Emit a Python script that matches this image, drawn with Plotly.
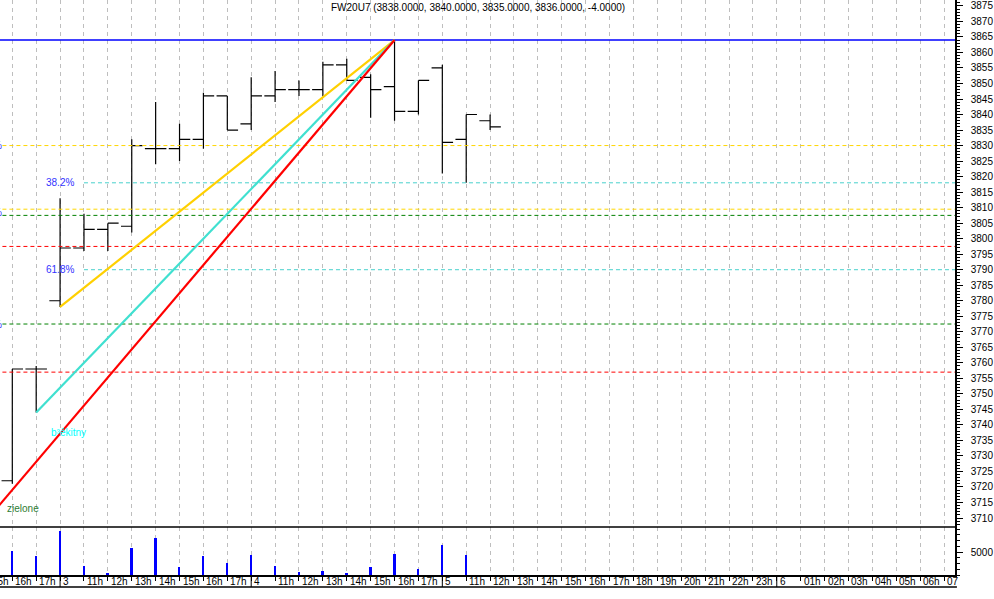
import plotly.graph_objects as go

# ---------------- data ----------------
bar_idx = list(range(1, 22))
opens  = [3722, 3758, 3780, 3797, 3803, 3804, 3829, 3829, 3832, 3846, 3837,
          3846, 3848, 3848, 3856, 3852, 3849, 3841, 3855, 3832, 3838]
highs  = [3758, 3759, 3813, 3808, 3805, 3832, 3844, 3837, 3847, 3846, 3852,
          3854, 3851, 3857, 3858, 3853, 3864, 3851, 3856, 3840, 3840]
lows   = [3721, 3744, 3778, 3796, 3796, 3802, 3824, 3825, 3829, 3835, 3835,
          3844, 3846, 3846, 3851, 3839, 3838, 3840, 3821, 3818, 3835]
closes = [3758, 3758, 3797, 3803, 3805, 3830, 3829, 3832, 3846, 3835, 3846,
          3848, 3848, 3856, 3851, 3848, 3841, 3851, 3831, 3840, 3836]
volumes = [5200, 4130, 9570, 1960, 500, 5870, 8040, 1740, 4130, 2610, 4350,
           1960, 650, 870, 430, 1740, 4570, 1300, 6520, 4350, 0]

tick_idx = list(range(0, 41))
tick_labels = ["15h", "16h", "17h", "3", "11h", "12h", "13h", "14h", "15h", "16h", "17h",
               "4", "11h", "12h", "13h", "14h", "15h", "16h", "17h",
               "5", "11h", "12h", "13h", "14h", "15h", "16h", "17h", "18h", "19h", "20h",
               "21h", "22h", "23h", "6", "01h", "02h", "03h", "04h", "05h", "06h", "07"]
day_idx = [3, 11, 19, 33]

# trend lines (start point -> top)
red_x, red_y = [0, 17], [3710, 3864]
cyan_x, cyan_y = [2, 17], [3744, 3864]
yellow_x, yellow_y = [3, 17], [3778, 3864]

# horizontal levels
top_level = 3864
dashed_levels = [3830, 3809.5, 3807.5, 3797.5, 3772.5, 3757]
dashed_colors = ["#FFD700", "#FFD700", "#008000", "#FF0000", "#008000", "#FF0000"]
fib_levels = [3818, 3790]
fib_labels = ["38.2%", "61.8%"]
fib_start = 4
left_pct_levels = [3830, 3808.5, 3772.5]

title_text = "FW20U7 (3838.0000, 3840.0000, 3835.0000, 3836.0000, -4.0000)"

FONT = "Liberation Sans, Arial, sans-serif"
X0, X1 = 0.485, 40.46

fig = go.Figure()

# volume spikes
fig.add_trace(go.Bar(x=bar_idx, y=volumes, width=0.08, marker=dict(color="#0000FF", line=dict(width=0)),
                     yaxis="y2", xaxis="x", showlegend=False, hoverinfo="skip"))

# horizontal dashed levels
for lv, col in zip(dashed_levels, dashed_colors):
    fig.add_trace(go.Scatter(x=[0, 41], y=[lv, lv], mode="lines",
                             line=dict(color=col, width=1, dash="4px,3px"),
                             showlegend=False, hoverinfo="skip"))
for lv in fib_levels:
    fig.add_trace(go.Scatter(x=[fib_start, 41], y=[lv, lv], mode="lines",
                             line=dict(color="#48D1CC", width=1, dash="4px,3px"),
                             showlegend=False, hoverinfo="skip"))
fig.add_trace(go.Scatter(x=[0, 41], y=[top_level, top_level], mode="lines",
                         line=dict(color="#0000FF", width=1.5), showlegend=False, hoverinfo="skip"))

# trend lines
fig.add_trace(go.Scatter(x=yellow_x, y=yellow_y, mode="lines", line=dict(color="#FFD000", width=2.2),
                         showlegend=False, hoverinfo="skip"))
fig.add_trace(go.Scatter(x=cyan_x, y=cyan_y, mode="lines", line=dict(color="#40E0D0", width=2.2),
                         showlegend=False, hoverinfo="skip"))
fig.add_trace(go.Scatter(x=red_x, y=red_y, mode="lines", line=dict(color="#FF0000", width=2.2),
                         showlegend=False, hoverinfo="skip"))

# OHLC bars
fig.add_trace(go.Ohlc(x=bar_idx, open=opens, high=highs, low=lows, close=closes,
                      increasing=dict(line=dict(color="black", width=1.2)),
                      decreasing=dict(line=dict(color="black", width=1.2)),
                      tickwidth=0.45, showlegend=False, hoverinfo="skip"))

PH = 575.0
vol_top = 48 / PH

fig.update_layout(
    width=994, height=599,
    margin=dict(l=0, r=39, t=0, b=24),
    paper_bgcolor="white", plot_bgcolor="white",
    font=dict(family=FONT, size=10, color="black"),
    showlegend=False,
    xaxis=dict(range=[X0, X1], anchor="y2", rangeslider=dict(visible=False),
               tickmode="array", tickvals=tick_idx, ticktext=[""] * len(tick_idx),
               ticks="outside", ticklen=4, tickcolor="black", tickwidth=1,
               showticklabels=False,
               showgrid=True, gridcolor="#BEBEBE", griddash="4px,4px", gridwidth=1,
               showline=True, linecolor="black", linewidth=1.5, zeroline=False),
    yaxis=dict(domain=[vol_top, 1], range=[3707.1, 3876.9], side="right",
               tickmode="linear", tick0=3710, dtick=5, ticks="outside", ticklen=6,
               tickcolor="black", showgrid=False, zeroline=False,
               showline=True, linecolor="black", linewidth=1.5,
               ticklabelstandoff=6,
               tickfont=dict(family=FONT, size=10, color="black"),
               minor=dict(dtick=1, ticks="outside", ticklen=3, tickcolor="black")),
    yaxis2=dict(domain=[0, vol_top], range=[0, 10435], side="right",
                tickmode="array", tickvals=[5000], ticktext=["5000"],
                ticks="outside", ticklen=6, tickcolor="black", showgrid=False, zeroline=False,
                showline=True, linecolor="black", linewidth=1.5,
                ticklabelstandoff=6,
                tickfont=dict(family=FONT, size=10, color="black"),
                minor=dict(dtick=1250, ticks="outside", ticklen=3, tickcolor="black")),
    bargap=0,
)

shapes = []
# separator between price and volume panels
shapes.append(dict(type="line", xref="paper", yref="paper", x0=0, x1=1, y0=vol_top, y1=vol_top,
                   line=dict(color="black", width=1.5)))
# bottom line under labels
shapes.append(dict(type="line", xref="paper", yref="paper", x0=0, x1=1.002, y0=-12 / PH, y1=-12 / PH,
                   line=dict(color="black", width=1.5)))
# day boundary long ticks
for d in day_idx:
    shapes.append(dict(type="line", xref="x", yref="paper", x0=d, x1=d, y0=0, y1=-12 / PH,
                       line=dict(color="black", width=1)))
fig.update_layout(shapes=shapes)

ann = []
ann.append(dict(text=title_text, xref="paper", yref="paper", x=478 / 955, y=1 - 8 / PH,
                xanchor="center", yanchor="middle", showarrow=False,
                font=dict(family=FONT, size=10, color="black")))
for i, lab in zip(tick_idx, tick_labels):
    if i == 0:
        ann.append(dict(text=lab, xref="paper", yref="paper", x=0, y=-6 / PH, xshift=-10,
                        xanchor="left", yanchor="middle", showarrow=False,
                        font=dict(family=FONT, size=10, color="black")))
    else:
        ann.append(dict(text=lab, xref="x", yref="paper", x=i, y=-6 / PH, xshift=1,
                        xanchor="left", yanchor="middle", showarrow=False,
                        font=dict(family=FONT, size=10, color="black")))
for lv, lab in zip(fib_levels, fib_labels):
    ann.append(dict(text=lab, xref="x", yref="y", x=fib_start, y=lv, xshift=-8,
                    xanchor="right", yanchor="middle", showarrow=False,
                    font=dict(family=FONT, size=10, color="#3333FF")))
for lv in left_pct_levels:
    ann.append(dict(text="%", xref="paper", yref="y", x=0, y=lv, xshift=4,
                    xanchor="right", yanchor="middle", showarrow=False,
                    font=dict(family=FONT, size=10, color="#3333FF")))
ann.append(dict(text="b³êkitny", xref="x", yref="y", x=2.55, y=3737.5,
                xanchor="left", yanchor="middle", showarrow=False,
                font=dict(family=FONT, size=10, color="#00FFFF")))
ann.append(dict(text="zielone", xref="x", yref="y", x=0.69, y=3713.2,
                xanchor="left", yanchor="middle", showarrow=False,
                font=dict(family=FONT, size=10, color="#2E7D32")))
fig.update_layout(annotations=ann)

fig.write_html("out.html",
               config={"displayModeBar": False},
               post_script="document.body.style.margin='0';document.body.style.overflow='hidden';")
